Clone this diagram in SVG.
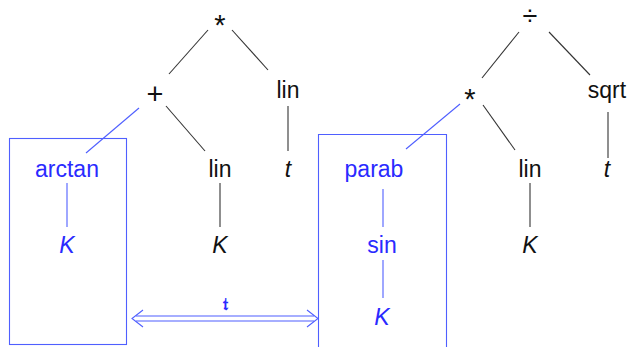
<svg xmlns="http://www.w3.org/2000/svg" width="631" height="347" viewBox="0 0 631 347">
  <style>
    text { font-family: "Liberation Sans", "DejaVu Sans", sans-serif; font-size: 23px; text-anchor: middle; fill: #111; }
    .op { font-size: 29px; }
    .hl { fill: #2a2aff; }
    .it { font-style: italic; }
    .edge { stroke: #333; stroke-width: 1.1; fill: none; }
    .edge.hl, .box, .dbl { stroke: #4f5fff; stroke-width: 1.1; fill: none; }
  </style>

  <!-- highlighted subtree boxes -->
  <g id="box-left"><rect class="box" x="9.5" y="138.5" width="117" height="206"/></g>
  <g id="box-right"><path class="box" d="M318.5 350 V134.5 H446.5 V350"/></g>

  <!-- edges -->
  <g id="connectors">
    <line class="edge" x1="208" y1="30" x2="169" y2="74"/>
    <line class="edge" x1="232" y1="30" x2="268" y2="70"/>
    <line class="edge hl" x1="139" y1="108" x2="86" y2="153"/>
    <line class="edge" x1="166" y1="106" x2="205" y2="151"/>
    <line class="edge" x1="288" y1="106" x2="288" y2="151"/>
    <line class="edge hl" x1="67" y1="183" x2="67" y2="227"/>
    <line class="edge" x1="220" y1="183" x2="220" y2="227"/>

    <line class="edge" x1="519" y1="32" x2="482" y2="78"/>
    <line class="edge" x1="549" y1="32" x2="590" y2="75"/>
    <line class="edge hl" x1="460" y1="104" x2="406" y2="149"/>
    <line class="edge" x1="483" y1="105" x2="515" y2="150"/>
    <line class="edge" x1="608" y1="112" x2="608" y2="158"/>
    <line class="edge hl" x1="383" y1="189" x2="383" y2="227"/>
    <line class="edge hl" x1="383" y1="260" x2="383" y2="298"/>
    <line class="edge" x1="530" y1="183" x2="530" y2="227"/>

    <!-- double-line two-way arrow between the boxes -->
    <g id="link-arrow">
      <path class="dbl" d="M136 316 H314 M136 321 H314"/>
      <path class="dbl" d="M143 310 L132 318.5 L143 327"/>
      <path class="dbl" d="M307 310 L318 318.5 L307 327"/>
    </g>
  </g>

  <!-- left tree -->
  <g id="n-mul"><text class="op" x="220" y="35">*</text></g>
  <g id="n-plus"><text class="op" x="155" y="104">+</text></g>
  <g id="n-lin1"><text x="288" y="98">lin</text></g>
  <g id="n-arctan"><text class="hl" x="67" y="177">arctan</text></g>
  <g id="n-lin2"><text x="220" y="177">lin</text></g>
  <g id="n-t1"><text class="it" x="288" y="177">t</text></g>
  <g id="n-K1"><text class="hl it" x="67" y="253">K</text></g>
  <g id="n-K2"><text class="it" x="220" y="253">K</text></g>

  <!-- arrow label -->
  <g id="lbl-tau"><text class="hl" x="225" y="310" style="font-size:17px;font-weight:bold;font-family:'DejaVu Serif',serif">𝔱</text></g>

  <!-- right tree -->
  <g id="n-div"><text x="530" y="25" style="font-size:27px">÷</text></g>
  <g id="n-mul2"><text class="op" x="470" y="109">*</text></g>
  <g id="n-sqrt"><text x="607" y="98">sqrt</text></g>
  <g id="n-parab"><text class="hl" x="374" y="177">parab</text></g>
  <g id="n-lin3"><text x="530" y="177">lin</text></g>
  <g id="n-t2"><text class="it" x="607" y="177">t</text></g>
  <g id="n-sin"><text class="hl" x="382" y="253">sin</text></g>
  <g id="n-K3"><text class="it" x="530" y="253">K</text></g>
  <g id="n-K4"><text class="hl it" x="382" y="325">K</text></g>
</svg>
